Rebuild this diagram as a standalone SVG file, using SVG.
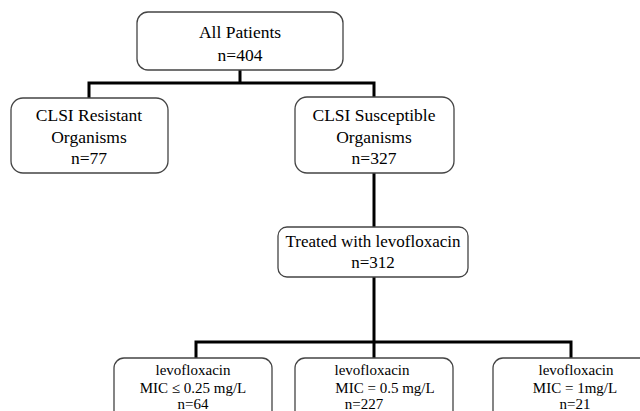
<svg xmlns="http://www.w3.org/2000/svg" width="640" height="411" viewBox="0 0 640 411">
<style>
.box{fill:#fff;stroke:#444;stroke-width:1.3}
text{font-family:'Liberation Serif','DejaVu Serif',serif;fill:#000;text-anchor:middle}
.l2{font-size:17.5px}
.l3{font-size:17px}
.l4{font-size:15px}
.c{fill:none;stroke:#000;stroke-width:3}
</style>
<rect width="640" height="411" fill="#fff"/>
<g id="connectors">
<path class="c" d="M240 70V83M89 98V83H374V97"/>
<path class="c" d="M374 173V227"/>
<path class="c" d="M374 277V342M196 358V342H571V358M374 342V358"/>
</g>
<g id="all-patients">
<rect class="box" x="137" y="12" width="206" height="58" rx="11"/>
<text class="l2" x="240" y="38">All Patients</text>
<text class="l2" x="240" y="61">n=404</text>
</g>
<g id="resistant">
<rect class="box" x="11" y="98" width="157" height="75" rx="12"/>
<text class="l2" x="89" y="121">CLSI Resistant</text>
<text class="l2" x="89" y="143">Organisms</text>
<text class="l2" x="89" y="164">n=77</text>
</g>
<g id="susceptible">
<rect class="box" x="295" y="97" width="159" height="76" rx="12"/>
<text class="l2" x="374" y="121">CLSI Susceptible</text>
<text class="l2" x="374" y="143">Organisms</text>
<text class="l2" x="374" y="164">n=327</text>
</g>
<g id="treated">
<rect class="box" x="278" y="227" width="190" height="50" rx="9"/>
<text class="l3" x="373" y="247">Treated with levofloxacin</text>
<text class="l3" x="373" y="268">n=312</text>
</g>
<g id="mic-025">
<rect class="box" x="114" y="358" width="158" height="70" rx="10"/>
<text class="l4" x="193" y="375">levofloxacin</text>
<text class="l4" x="193" y="393">MIC ≤ 0.25 mg/L</text>
<text class="l4" x="193" y="409">n=64</text>
</g>
<g id="mic-05">
<rect class="box" x="295" y="358" width="158" height="70" rx="10"/>
<text class="l4" x="372" y="375">levofloxacin</text>
<text class="l4" x="385" y="393">MIC = 0.5 mg/L</text>
<text class="l4" x="364" y="409">n=227</text>
</g>
<g id="mic-1">
<rect class="box" x="493" y="358" width="160" height="70" rx="10"/>
<text class="l4" x="576" y="375">levofloxacin</text>
<text class="l4" x="575" y="393">MIC = 1mg/L</text>
<text class="l4" x="575" y="409">n=21</text>
</g>
</svg>
